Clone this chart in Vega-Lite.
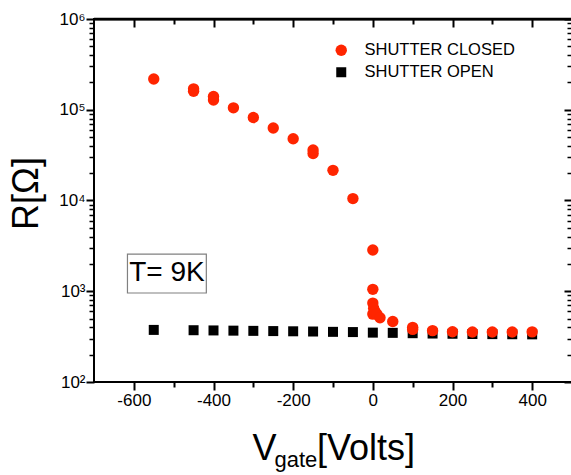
{
  "$schema": "https://vega.github.io/schema/vega-lite/v6.json",
  "width": 478,
  "height": 363,
  "autosize": "none",
  "padding": {"left": 94, "top": 19, "right": 0, "bottom": 93},
  "background": "white",
  "config": {
    "view": {"stroke": "black", "strokeWidth": 2},
    "font": "Liberation Sans",
    "axis": {
      "labelFont": "Liberation Sans",
      "labelFontSize": 17,
      "labelColor": "black",
      "domainColor": "black",
      "domainWidth": 2,
      "tickColor": "black",
      "tickWidth": 2,
      "grid": false,
      "titleFont": "Liberation Sans",
      "titleFontWeight": "normal",
      "titleColor": "black"
    },
    "legend": {
      "labelFont": "Liberation Sans",
      "labelFontSize": 16.5,
      "labelColor": "black"
    }
  },
  "data": {
    "values": [
      {"V": -550, "R": 375, "series": "SHUTTER OPEN"},
      {"V": -450, "R": 372, "series": "SHUTTER OPEN"},
      {"V": -400, "R": 370, "series": "SHUTTER OPEN"},
      {"V": -350, "R": 368, "series": "SHUTTER OPEN"},
      {"V": -300, "R": 366, "series": "SHUTTER OPEN"},
      {"V": -250, "R": 364, "series": "SHUTTER OPEN"},
      {"V": -200, "R": 362, "series": "SHUTTER OPEN"},
      {"V": -150, "R": 360, "series": "SHUTTER OPEN"},
      {"V": -100, "R": 357, "series": "SHUTTER OPEN"},
      {"V": -50, "R": 355, "series": "SHUTTER OPEN"},
      {"V": 0, "R": 350, "series": "SHUTTER OPEN"},
      {"V": 50, "R": 348, "series": "SHUTTER OPEN"},
      {"V": 100, "R": 345, "series": "SHUTTER OPEN"},
      {"V": 150, "R": 342, "series": "SHUTTER OPEN"},
      {"V": 200, "R": 340, "series": "SHUTTER OPEN"},
      {"V": 250, "R": 338, "series": "SHUTTER OPEN"},
      {"V": 300, "R": 337, "series": "SHUTTER OPEN"},
      {"V": 350, "R": 336, "series": "SHUTTER OPEN"},
      {"V": 400, "R": 335, "series": "SHUTTER OPEN"},
      {"V": -550, "R": 218000, "series": "SHUTTER CLOSED"},
      {"V": -450, "R": 160000, "series": "SHUTTER CLOSED"},
      {"V": -450, "R": 170000, "series": "SHUTTER CLOSED"},
      {"V": -400, "R": 128000, "series": "SHUTTER CLOSED"},
      {"V": -400, "R": 140000, "series": "SHUTTER CLOSED"},
      {"V": -350, "R": 105000, "series": "SHUTTER CLOSED"},
      {"V": -300, "R": 82000, "series": "SHUTTER CLOSED"},
      {"V": -250, "R": 63000, "series": "SHUTTER CLOSED"},
      {"V": -200, "R": 48000, "series": "SHUTTER CLOSED"},
      {"V": -150, "R": 33000, "series": "SHUTTER CLOSED"},
      {"V": -150, "R": 36000, "series": "SHUTTER CLOSED"},
      {"V": -100, "R": 21500, "series": "SHUTTER CLOSED"},
      {"V": -50, "R": 10500, "series": "SHUTTER CLOSED"},
      {"V": 0, "R": 2850, "series": "SHUTTER CLOSED"},
      {"V": 0, "R": 1050, "series": "SHUTTER CLOSED"},
      {"V": 0, "R": 740, "series": "SHUTTER CLOSED"},
      {"V": 2, "R": 650, "series": "SHUTTER CLOSED"},
      {"V": 0, "R": 560, "series": "SHUTTER CLOSED"},
      {"V": 5, "R": 600, "series": "SHUTTER CLOSED"},
      {"V": 10, "R": 560, "series": "SHUTTER CLOSED"},
      {"V": 18, "R": 510, "series": "SHUTTER CLOSED"},
      {"V": 50, "R": 465, "series": "SHUTTER CLOSED"},
      {"V": 100, "R": 400, "series": "SHUTTER CLOSED"},
      {"V": 100, "R": 380, "series": "SHUTTER CLOSED"},
      {"V": 150, "R": 368, "series": "SHUTTER CLOSED"},
      {"V": 200, "R": 358, "series": "SHUTTER CLOSED"},
      {"V": 250, "R": 355, "series": "SHUTTER CLOSED"},
      {"V": 300, "R": 355, "series": "SHUTTER CLOSED"},
      {"V": 350, "R": 355, "series": "SHUTTER CLOSED"},
      {"V": 400, "R": 357, "series": "SHUTTER CLOSED"}
    ]
  },
  "resolve": {"axis": {"x": "independent", "y": "independent"}},
  "layer": [
    {
      "mark": {"type": "point", "opacity": 0},
      "encoding": {
        "x": {
          "field": "V", "type": "quantitative",
          "scale": {"domain": [-700, 500], "nice": false, "zero": false},
          "axis": {"orient": "top", "title": null, "labels": false, "domainColor": "black", "domainWidth": 2, "values": [-600, -400, -200, 0, 200, 400], "tickSize": -8, "tickColor": "black", "tickWidth": 2}
        },
        "y": {
          "field": "R", "type": "quantitative",
          "scale": {"type": "log", "domain": [100, 1000000], "nice": false},
          "axis": {"orient": "right", "title": null, "labels": false, "domain": false, "values": [100, 1000, 10000, 100000, 1000000], "tickSize": -8, "tickColor": "black", "tickWidth": 2}
        }
      }
    },
    {
      "mark": {"type": "point", "opacity": 0},
      "encoding": {
        "x": {
          "field": "V", "type": "quantitative",
          "scale": {"domain": [-700, 500], "nice": false, "zero": false},
          "axis": {"orient": "top", "title": null, "labels": false, "domain": false, "values": [-500, -300, -100, 100, 300], "tickSize": -5, "tickColor": "black", "tickWidth": 2}
        },
        "y": {
          "field": "R", "type": "quantitative",
          "scale": {"type": "log", "domain": [100, 1000000], "nice": false},
          "axis": {"orient": "right", "title": null, "labels": false, "domain": false, "values": [200,300,400,500,600,700,800,900,2000,3000,4000,5000,6000,7000,8000,9000,20000,30000,40000,50000,60000,70000,80000,90000,200000,300000,400000,500000,600000,700000,800000,900000], "tickSize": -5, "tickColor": "black", "tickWidth": 1.5}
        }
      }
    },
    {
      "mark": {"type": "point", "opacity": 0},
      "encoding": {
        "x": {
          "field": "V", "type": "quantitative",
          "scale": {"domain": [-700, 500], "nice": false, "zero": false},
          "axis": {"orient": "bottom", "title": null, "labels": false, "domain": false, "values": [-500, -300, -100, 100, 300], "tickSize": 5, "tickColor": "black", "tickWidth": 2}
        },
        "y": {
          "field": "R", "type": "quantitative",
          "scale": {"type": "log", "domain": [100, 1000000], "nice": false},
          "axis": {"orient": "left", "title": null, "labels": false, "domain": false, "values": [200,300,400,500,600,700,800,900,2000,3000,4000,5000,6000,7000,8000,9000,20000,30000,40000,50000,60000,70000,80000,90000,200000,300000,400000,500000,600000,700000,800000,900000], "tickSize": 5, "tickColor": "black", "tickWidth": 1.5}
        }
      }
    },
    {
      "mark": {"type": "point", "opacity": 0},
      "encoding": {
        "x": {
          "field": "V", "type": "quantitative",
          "scale": {"domain": [-700, 500], "nice": false, "zero": false},
          "axis": {"orient": "bottom", "title": null, "labels": false, "domain": false, "values": [-600, -400, -200, 0, 200, 400], "tickSize": 8, "tickColor": "black", "tickWidth": 2}
        },
        "y": {
          "field": "R", "type": "quantitative",
          "scale": {"type": "log", "domain": [100, 1000000], "nice": false},
          "axis": {"orient": "left", "title": null, "labels": false, "domain": false, "values": [100, 1000, 10000, 100000, 1000000], "tickSize": 8, "tickColor": "black", "tickWidth": 2}
        }
      }
    },
    {
      "data": {"values": [{}]},
      "mark": {"type": "rule", "color": "black", "strokeWidth": 2.5, "clip": false},
      "encoding": {
        "x": {"datum": -700, "type": "quantitative", "scale": {"domain": [-700, 500], "nice": false, "zero": false}, "axis": null},
        "x2": {"datum": 500},
        "y": {"datum": 1000000, "type": "quantitative", "scale": {"type": "log", "domain": [100, 1000000], "nice": false}, "axis": null}
      }
    },
    {
      "mark": {"type": "point", "filled": true, "opacity": 1, "strokeWidth": 0},
      "encoding": {
        "x": {
          "field": "V", "type": "quantitative",
          "scale": {"domain": [-700, 500], "nice": false, "zero": false},
          "axis": {
            "orient": "bottom", "title": null, "ticks": false, "domain": false,
            "values": [-600, -400, -200, 0, 200, 400],
            "labelExpr": "'' + datum.value",
            "labelPadding": 10
          }
        },
        "y": {
          "field": "R", "type": "quantitative",
          "scale": {"type": "log", "domain": [100, 1000000], "nice": false},
          "axis": {
            "orient": "left", "ticks": false, "domain": false,
            "title": "R[Ω]",
            "titleFontSize": 36,
            "titleAngle": 270,
            "titleAlign": "center",
            "titleBaseline": "alphabetic",
            "titleX": -57,
            "titleY": 174,
            "values": [100, 1000, 10000, 100000, 1000000],
            "labelExpr": "datum.value == 100 ? '10²' : datum.value == 1000 ? '10³' : datum.value == 10000 ? '10⁴' : datum.value == 100000 ? '10⁵' : '10⁶'",
            "labelPadding": 9
          }
        },
        "color": {
          "field": "series", "type": "nominal",
          "scale": {"domain": ["SHUTTER CLOSED", "SHUTTER OPEN"], "range": ["#ff2500", "#000000"]},
          "legend": {"title": null, "orient": "none", "legendX": 239, "legendY": 23, "labelOffset": 15, "rowPadding": 5, "padding": 0}
        },
        "shape": {
          "field": "series", "type": "nominal",
          "scale": {"domain": ["SHUTTER CLOSED", "SHUTTER OPEN"], "range": ["circle", "square"]},
          "legend": {"title": null, "orient": "none", "legendX": 239, "legendY": 23, "labelOffset": 15, "rowPadding": 5, "padding": 0}
        },
        "size": {
          "field": "series", "type": "nominal",
          "scale": {"domain": ["SHUTTER CLOSED", "SHUTTER OPEN"], "range": [130, 100]},
          "legend": {"title": null, "orient": "none", "legendX": 239, "legendY": 23, "labelOffset": 15, "rowPadding": 5, "padding": 0}
        }
      }
    },
    {
      "data": {"values": [{}]},
      "mark": {"type": "rect", "fill": "white", "stroke": "#808080", "strokeWidth": 1.2, "clip": false},
      "encoding": {
        "x": {"datum": -616, "type": "quantitative", "scale": {"domain": [-700, 500], "nice": false, "zero": false}, "axis": null},
        "x2": {"datum": -418},
        "y": {"datum": 2570, "type": "quantitative", "scale": {"type": "log", "domain": [100, 1000000], "nice": false}, "axis": null},
        "y2": {"datum": 957}
      }
    },
    {
      "data": {"values": [{}]},
      "mark": {"type": "text", "font": "Liberation Sans", "fontSize": 28, "align": "center", "baseline": "middle", "color": "black", "clip": false},
      "encoding": {
        "x": {"datum": -517, "type": "quantitative", "scale": {"domain": [-700, 500], "nice": false, "zero": false}, "axis": null},
        "y": {"datum": 1600, "type": "quantitative", "scale": {"type": "log", "domain": [100, 1000000], "nice": false}, "axis": null},
        "text": {"value": "T= 9K"}
      }
    },
    {
      "data": {"values": [{}]},
      "mark": {"type": "text", "font": "Liberation Sans", "fontSize": 36, "align": "left", "baseline": "alphabetic", "color": "black", "clip": false},
      "encoding": {
        "x": {"datum": -302, "type": "quantitative", "scale": {"domain": [-700, 500], "nice": false, "zero": false}, "axis": null},
        "y": {"datum": 13.8, "type": "quantitative", "scale": {"type": "log", "domain": [100, 1000000], "nice": false}, "axis": null},
        "text": {"value": "V"}
      }
    },
    {
      "data": {"values": [{}]},
      "mark": {"type": "text", "font": "Liberation Sans", "fontSize": 22, "align": "left", "baseline": "alphabetic", "color": "black", "clip": false},
      "encoding": {
        "x": {"datum": -247, "type": "quantitative", "scale": {"domain": [-700, 500], "nice": false, "zero": false}, "axis": null},
        "y": {"datum": 11.6, "type": "quantitative", "scale": {"type": "log", "domain": [100, 1000000], "nice": false}, "axis": null},
        "text": {"value": "gate"}
      }
    },
    {
      "data": {"values": [{}]},
      "mark": {"type": "text", "font": "Liberation Sans", "fontSize": 36, "align": "left", "baseline": "alphabetic", "color": "black", "clip": false},
      "encoding": {
        "x": {"datum": -140, "type": "quantitative", "scale": {"domain": [-700, 500], "nice": false, "zero": false}, "axis": null},
        "y": {"datum": 13.8, "type": "quantitative", "scale": {"type": "log", "domain": [100, 1000000], "nice": false}, "axis": null},
        "text": {"value": "[Volts]"}
      }
    }
  ]
}
